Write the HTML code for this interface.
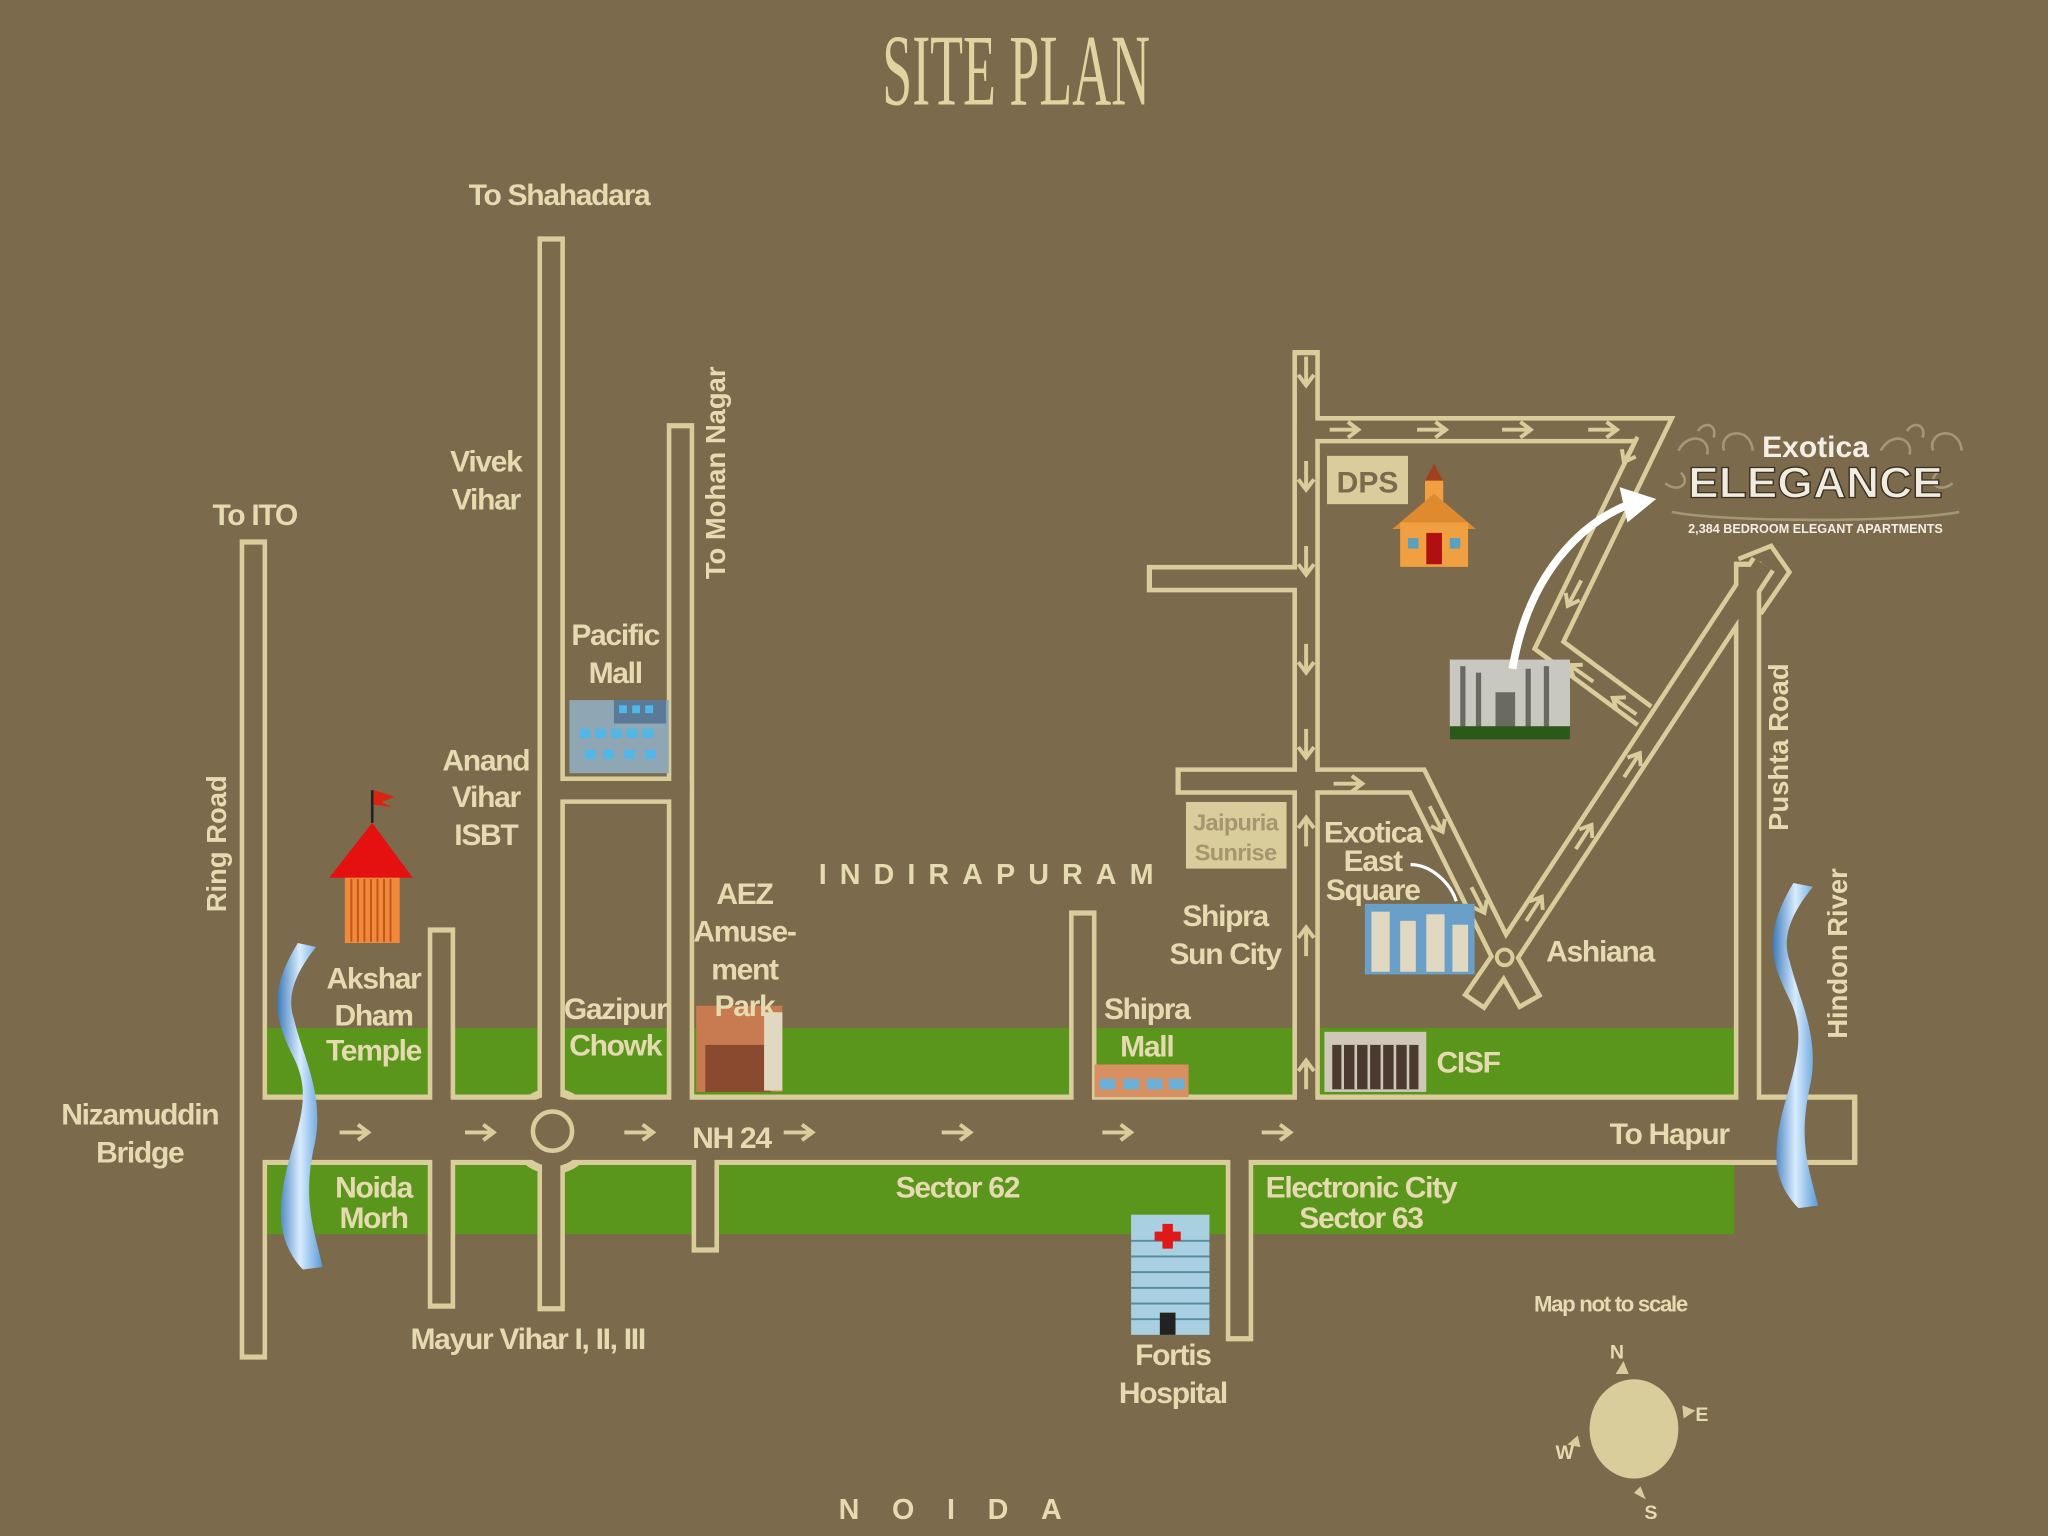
<!DOCTYPE html>
<html><head><meta charset="utf-8"><style>
html,body{margin:0;padding:0;background:#7b6a4c;}
svg{display:block;}
text{font-family:"Liberation Sans Narrow","Liberation Sans",sans-serif;font-weight:bold;fill:#e6dab0;}
</style></head><body>
<svg width="2048" height="1536" viewBox="0 0 1568 1176" preserveAspectRatio="none" xmlns="http://www.w3.org/2000/svg">
<rect width="1568" height="1176" fill="#7b6a4c"/>
<rect x="204" y="787" width="1124" height="52" fill="#5a951c"/>
<rect x="204" y="892" width="1124" height="53" fill="#5a951c"/>

<g fill="none" stroke="#d9cd9c" stroke-linejoin="miter" stroke-linecap="butt">
 <path d="M204 865 H1422" stroke-width="54"/>
 <g stroke-width="21">
  <path d="M194 413 V1041"/>
  <path d="M338 710 V1002"/>
  <path d="M422 181 V1004"/>
  <path d="M521 324 V840"/>
  <path d="M422 605 H521"/>
  <path d="M540 890 V959"/>
  <path d="M829 697 V840"/>
  <path d="M949 890 V1027"/>
  <path d="M1000 268 V840"/>
  <path d="M878 443 H1000"/>
  <path d="M900 598 H1085 L1152 733"/>
  <path d="M1000 329 H1266 L1186 494 L1259 548"/>
  <path d="M1152 733 L1350 432"/>
  <path d="M1338 430 V840"/>
  <path d="M1152 733 L1128 768"/>
  <path d="M1152 733 L1172 768"/>
 </g>
 <circle cx="423" cy="866" r="33" stroke-width="0" fill="#d9cd9c"/>
</g>
<g fill="none" stroke="#7b6a4c" stroke-linejoin="miter" stroke-linecap="butt">
 <path d="M190 865 H1418" stroke-width="46"/>
 <g stroke-width="14">
  <path d="M194 417 V1037"/>
  <path d="M338 714 V998"/>
  <path d="M422 185 V1000"/>
  <path d="M521 328 V845"/>
  <path d="M415 605 H528"/>
  <path d="M540 885 V955"/>
  <path d="M829 701 V845"/>
  <path d="M949 885 V1023"/>
  <path d="M1000 272 V845"/>
  <path d="M882 443 H1005"/>
  <path d="M904 598 H1085 L1152 733"/>
  <path d="M995 329 H1266 L1186 494 L1259 548"/>
  <path d="M1152 733 L1350 432"/>
  <path d="M1338 434 V845"/>
  <path d="M1152 733 L1130 765"/>
  <path d="M1152 733 L1170 765"/>
 </g>
 <circle cx="423" cy="866" r="27" stroke-width="0" fill="#7b6a4c"/>
</g>
<path d="M1331 428 L1356 418 L1370 438 L1348 470" fill="none" stroke="#d9cd9c" stroke-width="3.5"/>
<circle cx="423" cy="866" r="15" fill="none" stroke="#d9cd9c" stroke-width="3.5"/>
<circle cx="1152" cy="733" r="6" fill="none" stroke="#d9cd9c" stroke-width="3"/>
<path d="M1420 840 V891" stroke="#d9cd9c" stroke-width="4"/>

<defs>
 <g id="ar"><path d="M-12 0 H8 M2 -6 L10 0 L2 6" fill="none" stroke="#d9cd9c" stroke-width="3"/></g>
</defs>
<g>
 <use href="#ar" x="272" y="867"/><use href="#ar" x="368" y="867"/><use href="#ar" x="490" y="867"/>
 <use href="#ar" x="612" y="867"/><use href="#ar" x="733" y="867"/><use href="#ar" x="856" y="867"/><use href="#ar" x="978" y="867"/>
 <use href="#ar" x="1030" y="329"/><use href="#ar" x="1097" y="329"/><use href="#ar" x="1162" y="329"/><use href="#ar" x="1228" y="329"/>
 <use href="#ar" x="1033" y="600"/>
 <g transform="rotate(90)">
  <use href="#ar" x="285" y="-1000"/><use href="#ar" x="365" y="-1000"/><use href="#ar" x="430" y="-1000"/><use href="#ar" x="505" y="-1000"/><use href="#ar" x="570" y="-1000"/>
 </g>
 <g transform="rotate(-90)">
  <use href="#ar" x="-636" y="1000"/><use href="#ar" x="-720" y="1000"/><use href="#ar" x="-822" y="1000"/>
 </g>
 <use href="#ar" transform="translate(1248 345) rotate(118)"/>
 <use href="#ar" transform="translate(1205 455) rotate(118)"/>
 <use href="#ar" transform="translate(1210 515) rotate(215)"/>
 <use href="#ar" transform="translate(1243 540) rotate(215)"/>
 <use href="#ar" transform="translate(1100 628) rotate(63)"/>
 <use href="#ar" transform="translate(1132 690) rotate(63)"/>
 <use href="#ar" transform="translate(1175 695) rotate(-57)"/>
 <use href="#ar" transform="translate(1213 640) rotate(-57)"/>
 <use href="#ar" transform="translate(1250 585) rotate(-57)"/>
</g>

<defs><linearGradient id="rv" x1="0" x2="1"><stop offset="0" stop-color="#3e7ab8"/><stop offset="0.5" stop-color="#d8ecff"/><stop offset="1" stop-color="#5a9ad6"/></linearGradient></defs>
<path d="M228 722 C205 760,210 780,225 810 C245 850,215 880,215 930 C215 950,225 965,232 972 L247 970 C240 940,232 920,240 880 C250 840,232 810,225 780 C218 760,230 740,242 725 Z" fill="url(#rv)"/>
<path d="M1373 676 C1350 715,1355 735,1370 765 C1390 805,1360 840,1360 885 C1360 905,1370 918,1377 925 L1392 923 C1385 895,1377 875,1385 835 C1395 795,1377 765,1370 735 C1363 715,1375 695,1388 679 Z" fill="url(#rv)"/>

<line x1="285" y1="605" x2="285" y2="630" stroke="#222" stroke-width="2"/>
<path d="M286 605 L302 610 L292 614 L300 618 L286 616 Z" fill="#d21"/>
<path d="M285 630 L316 672 L252 672 Z" fill="#e51010"/>
<rect x="264" y="672" width="42" height="50" fill="#f08a3a"/>
<g stroke="#c0541a" stroke-width="1.5"><path d="M269 673V721M274 673V721M279 673V721M284 673V721M289 673V721M294 673V721M299 673V721"/></g>

<rect x="436" y="536" width="76" height="56" fill="#8fa6b4"/>
<rect x="470" y="536" width="40" height="18" fill="#5a7a98"/>
<g fill="#4fb8e8"><rect x="474" y="540" width="6" height="6"/><rect x="484" y="540" width="6" height="6"/><rect x="494" y="540" width="6" height="6"/>
<rect x="444" y="558" width="8" height="7"/><rect x="456" y="558" width="8" height="7"/><rect x="468" y="558" width="8" height="7"/><rect x="480" y="558" width="8" height="7"/><rect x="492" y="558" width="8" height="7"/>
<rect x="448" y="574" width="8" height="7"/><rect x="462" y="574" width="8" height="7"/><rect x="478" y="574" width="8" height="7"/><rect x="494" y="574" width="8" height="7"/></g>

<rect x="533" y="770" width="66" height="66" fill="#c87a50"/>
<rect x="540" y="800" width="50" height="36" fill="#8a4a30"/>
<rect x="585" y="775" width="14" height="60" fill="#e0d8c0"/>
<rect x="838" y="815" width="72" height="25" fill="#d89060"/>
<g fill="#6ab0d8"><rect x="842" y="826" width="12" height="8"/><rect x="860" y="826" width="12" height="8"/><rect x="878" y="826" width="12" height="8"/><rect x="895" y="826" width="12" height="8"/></g>
<rect x="1014" y="790" width="78" height="46" fill="#cfc8b8"/>
<g fill="#4a3a30"><rect x="1020" y="800" width="66" height="34"/></g>
<g stroke="#cfc8b8" stroke-width="2"><path d="M1028 800V834M1038 800V834M1048 800V834M1058 800V834M1068 800V834M1078 800V834"/></g>
<rect x="866" y="930" width="60" height="92" fill="#a8d0e0"/>
<g stroke="#5a8aa0" stroke-width="1.5"><path d="M866 950H926M866 962H926M866 974H926M866 986H926M866 998H926M866 1010H926"/></g>
<rect x="888" y="1005" width="12" height="17" fill="#222"/>
<path d="M890 937h8v6h6v7h-6v6h-8v-6h-6v-7h6z" fill="#e01818"/>
<path d="M1098 355 L1106 370 L1090 370 Z" fill="#a04020"/>
<rect x="1091" y="368" width="14" height="16" fill="#f0a040"/>
<path d="M1098 378 L1130 405 L1066 405 Z" fill="#e08a30"/>
<rect x="1072" y="400" width="52" height="34" fill="#f0a040"/>
<rect x="1092" y="408" width="12" height="24" fill="#b01010"/>
<rect x="1078" y="412" width="8" height="8" fill="#5aa0c0"/><rect x="1110" y="412" width="8" height="8" fill="#5aa0c0"/>
<rect x="1016" y="349" width="62" height="37" fill="#d9cd9c"/>
<text x="1047" y="377" font-size="23" text-anchor="middle" style="fill:#7b6a4c">DPS</text>
<rect x="908" y="614" width="77" height="51" fill="#d9cd9c"/>
<text x="946" y="636" font-size="18" text-anchor="middle" style="fill:#a69670" letter-spacing="-0.5">Jaipuria</text>
<text x="946" y="659" font-size="18" text-anchor="middle" style="fill:#a69670" letter-spacing="-0.5">Sunrise</text>
<rect x="1110" y="505" width="92" height="60" fill="#c8c8c0"/>
<g fill="#6a6a60"><rect x="1118" y="510" width="4" height="50"/><rect x="1130" y="515" width="4" height="45"/><rect x="1168" y="512" width="4" height="48"/><rect x="1182" y="510" width="4" height="50"/><rect x="1145" y="530" width="15" height="30"/></g>
<rect x="1110" y="556" width="92" height="10" fill="#2a5a1a"/>
<rect x="1045" y="692" width="84" height="54" fill="#6aa0c8"/>
<g fill="#e0d8c0"><rect x="1050" y="698" width="14" height="46"/><rect x="1072" y="705" width="12" height="39"/><rect x="1092" y="700" width="14" height="44"/><rect x="1112" y="708" width="12" height="36"/></g>
<path d="M1158 512 C1170 440,1210 400,1250 385" fill="none" stroke="#fff" stroke-width="6"/>
<path d="M1240 373 L1268 382 L1246 400 Z" fill="#fff"/>
<path d="M1115 690 C1110 675,1095 662,1080 662" fill="none" stroke="#fff" stroke-width="2.5"/>

<g opacity="0.55" fill="none" stroke="#c8bc98" stroke-width="2">
 <path d="M1285 345 c8-15 25-10 22 3 M1300 330 c5-8 15-5 12 5 M1320 345 c-5-15 20-20 22 0 M1275 370 c10 8 20 0 12-8 M1280 392 c40 8 180 8 220 0"/>
 <path d="M1440 345 c8-15 25-10 22 3 M1460 330 c5-8 15-5 12 5 M1480 345 c-5-15 20-20 22 0 M1495 370 c-10 8-20 0-12-8"/>
</g>
<text x="1390" y="350" font-size="23" text-anchor="middle" style="fill:#f4efe4">Exotica</text>
<text x="1390" y="381" font-size="33" text-anchor="middle" style="fill:#f0ece0;stroke:#3a3020;stroke-width:1" textLength="195" lengthAdjust="spacingAndGlyphs">ELEGANCE</text>
<text x="1390" y="408" font-size="10" text-anchor="middle" style="fill:#f4efe4" textLength="195" lengthAdjust="spacingAndGlyphs">2,384 BEDROOM ELEGANT APARTMENTS</text>

<text x="778" y="80" font-size="78" text-anchor="middle" style="font-family:'Liberation Serif',serif;font-weight:normal;fill:#e0d4a0" textLength="205" lengthAdjust="spacingAndGlyphs">SITE PLAN</text>

<g font-size="23" text-anchor="middle" letter-spacing="-1">
 <text x="428" y="157">To Shahadara</text>
 <text x="195" y="402">To ITO</text>
 <text x="372" y="361">Vivek</text><text x="372" y="390">Vihar</text>
 <text x="471" y="494">Pacific</text><text x="471" y="523">Mall</text>
 <text x="372" y="590">Anand</text><text x="372" y="618">Vihar</text><text x="372" y="647">ISBT</text>
 <text x="286" y="757">Akshar</text><text x="286" y="785">Dham</text><text x="286" y="812">Temple</text>
 <text x="471" y="780">Gazipur</text><text x="471" y="808">Chowk</text>
 <text x="570" y="692">AEZ</text><text x="570" y="721">Amuse-</text><text x="570" y="750">ment</text><text x="570" y="778">Park</text>
 <text x="938" y="709">Shipra</text><text x="938" y="738">Sun City</text>
 <text x="878" y="780">Shipra</text><text x="878" y="809">Mall</text>
 <text x="1051" y="645">Exotica</text><text x="1051" y="667">East</text><text x="1051" y="689">Square</text>
 <text x="1225" y="736">Ashiana</text>
 <text x="1124" y="821">CISF</text>
 <text x="107" y="861">Nizamuddin</text><text x="107" y="890">Bridge</text>
 <text x="560" y="879">NH 24</text>
 <text x="1278" y="876">To Hapur</text>
 <text x="286" y="917">Noida</text><text x="286" y="940">Morh</text>
 <text x="733" y="917">Sector 62</text>
 <text x="1042" y="917">Electronic City</text><text x="1042" y="940">Sector 63</text>
 <text x="404" y="1033">Mayur Vihar I, II, III</text>
 <text x="898" y="1045">Fortis</text><text x="898" y="1074">Hospital</text>
 <text x="1233" y="1004" font-size="17">Map not to scale</text>
 <text transform="translate(555 362) rotate(-90)" font-size="21" letter-spacing="0">To Mohan Nagar</text>
 <text transform="translate(173 646) rotate(-90)" font-size="21" letter-spacing="0">Ring Road</text>
 <text transform="translate(1369 572) rotate(-90)" font-size="21" letter-spacing="0">Pushta Road</text>
 <text transform="translate(1414 730) rotate(-90)" font-size="21" letter-spacing="0">Hindon River</text>
 <text x="760" y="677" font-size="22" letter-spacing="10">INDIRAPURAM</text>
 <text x="740" y="1163" font-size="22" letter-spacing="25">NOIDA</text>
</g>

<ellipse cx="1251" cy="1094" rx="34" ry="38" fill="#d9cd9c"/>
<g fill="#d9cd9c">
 <path d="M1237 1052 l6 -10 l4 10 z"/><path d="M1288 1076 l10 4 l-9 6 z"/>
 <path d="M1210 1108 l-10 -2 l8 -7 z"/><path d="M1256 1138 l4 10 l-9 -5 z"/>
</g>
<g font-size="15" text-anchor="middle">
 <text x="1238" y="1040">N</text><text x="1303" y="1088">E</text><text x="1198" y="1117">W</text><text x="1264" y="1163">S</text>
</g>
</svg>
</body></html>
